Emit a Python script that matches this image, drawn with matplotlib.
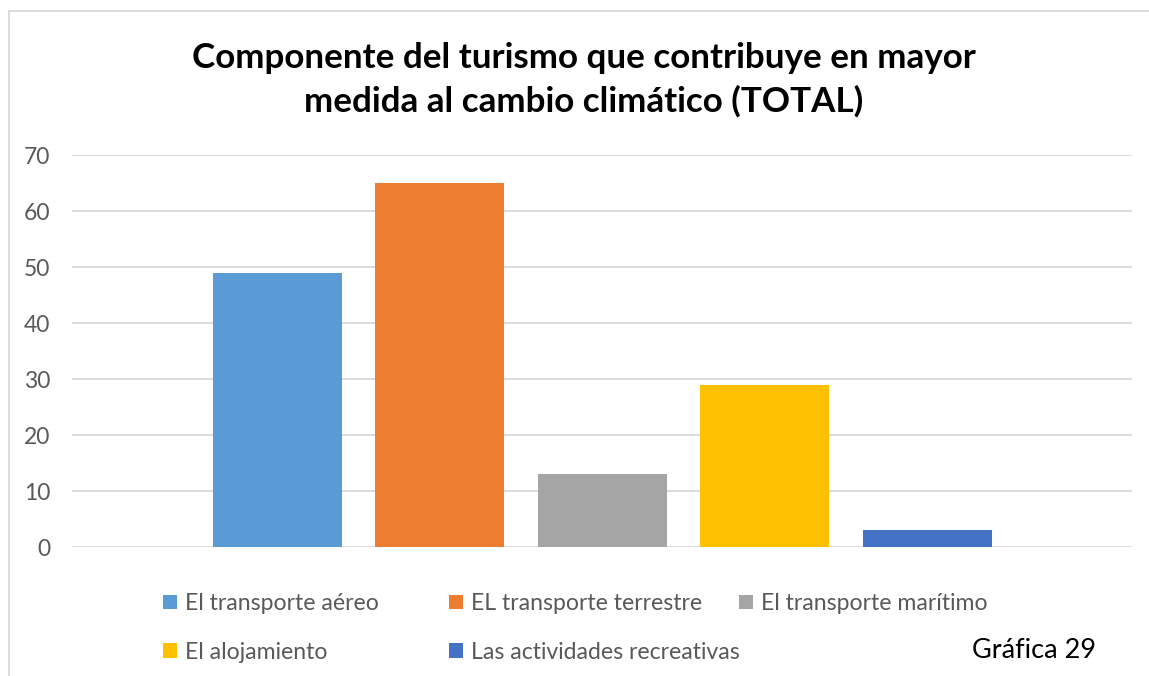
import matplotlib
matplotlib.use("Agg")
import matplotlib.pyplot as plt
from matplotlib.patches import Rectangle

series = ["El transporte aéreo", "EL transporte terrestre", "El transporte marítimo",
          "El alojamiento", "Las actividades recreativas"]
values = [49, 65, 13, 29, 3]
colors = ["#5B9BD5", "#ED7D31", "#A5A5A5", "#FFC000", "#4472C4"]
yticks = [0, 10, 20, 30, 40, 50, 60, 70]
title = "Componente del turismo que contribuye en mayor\nmedida al cambio climático (TOTAL)"
note = "Gráfica 29"

plt.rcParams['font.family'] = ['Lato', 'DejaVu Sans']

W, H = 1149, 676
fig = plt.figure(figsize=(W / 100, H / 100), dpi=100)

# outer chart border (only left and top visible, as in the crop)
fig.patches.append(Rectangle((8.5 / W, -0.2), 1.2, 1.2 - 10.5 / H, transform=fig.transFigure,
                             fill=False, edgecolor="#D9D9D9", linewidth=1.3))

ax = fig.add_axes([72 / W, 129 / H, 1060 / W, 392 / H])
handles = []
for i, (s, v, c) in enumerate(zip(series, values, colors)):
    b = ax.bar(i, v, width=0.794, color=c, label=s, zorder=3)
    handles.append(b)

ax.set_xlim(-1.265, 5.262)
ax.set_ylim(0, 70)
ax.set_yticks(yticks)
ax.set_xticks([])
ax.grid(axis="y", color="#D9D9D9", linewidth=1.3, zorder=0)
for sp in ax.spines.values():
    sp.set_visible(False)
ax.tick_params(axis="y", length=0, pad=15.5, labelsize=16.5, labelcolor="#595959")

fig.text(584 / W, 1 - 80 / H, title, ha="center", va="center", fontsize=25.2,
         fontweight="bold", linespacing=1.42)

# legend: three equal-width columns like the original
cols = [[0, 3], [1, 4], [2]]
xs = [163, 449, 739]
for col, x in zip(cols, xs):
    fig.legend([handles[k] for k in col], [series[k] for k in col],
               loc="upper left", bbox_to_anchor=(x / W, 1 - 593 / H),
               frameon=False, fontsize=16.6, labelcolor="#595959",
               handlelength=0.6, handleheight=0.6, handletextpad=0.35,
               labelspacing=1.2, borderaxespad=0, borderpad=0)

fig.text(1034 / W, 1 - 651 / H, note, ha="center", va="center", fontsize=19.5, color="black")

fig.savefig("out.png", dpi=100)
